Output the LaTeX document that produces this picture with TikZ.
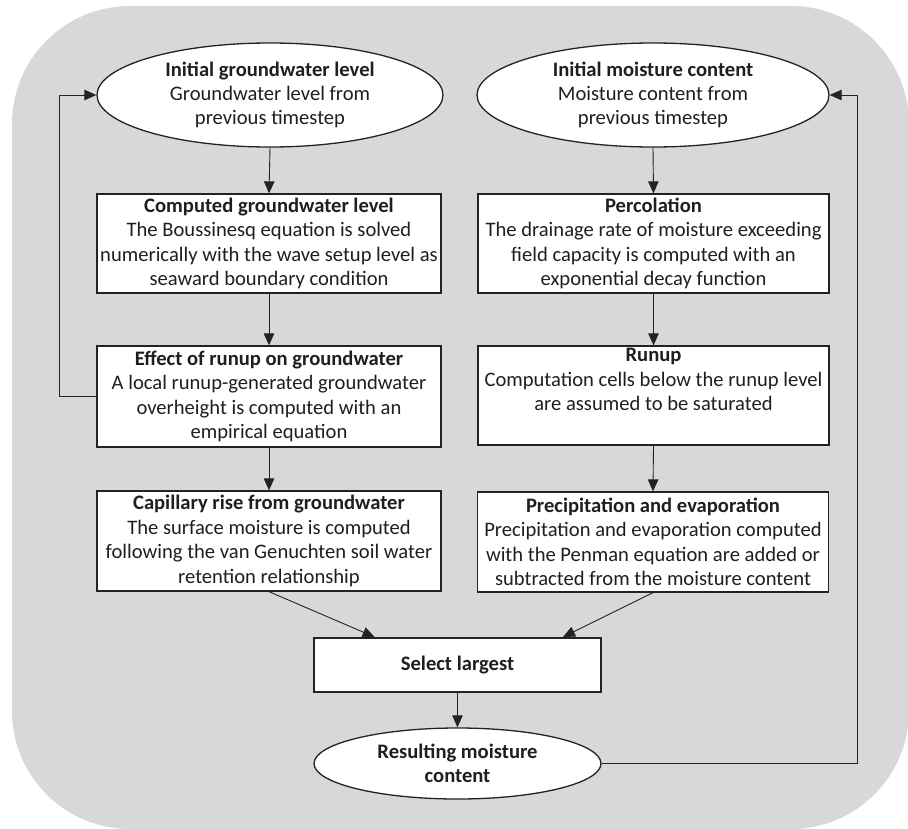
\documentclass[tikz,border=0pt]{standalone}
\usepackage{fontspec}
\setmainfont{Carlito}
\usetikzlibrary{shapes.geometric,arrows.meta,calc}
\definecolor{bggray}{RGB}{216,216,216}
\definecolor{edge}{RGB}{35,35,35}
\begin{document}
\begin{tikzpicture}[x=1pt,y=-1pt,
  every node/.style={font=\fontsize{20.6}{24.4}\selectfont, text=black!88},
  stepbox/.style={rectangle, draw=edge, line width=1.3pt, fill=white, inner sep=0pt, align=center},
  oval/.style={ellipse, draw=edge, line width=1.3pt, fill=white, inner sep=0pt, align=center},
  conn/.style={draw=edge, line width=0.9pt, -{Triangle[length=12pt,width=10.5pt]}}
]
\useasboundingbox (0,0) rectangle (908,828);
\fill[bggray, rounded corners=118pt] (12,6) rectangle (909,829);

\node[oval, minimum width=346pt, minimum height=104pt] (e1) at (270,95)
  {\textbf{Initial groundwater level}\\Groundwater level from\\previous timestep};
\node[oval, minimum width=352pt, minimum height=104pt] (e2) at (653,95)
  {\textbf{Initial moisture content}\\Moisture content from\\previous timestep};

\node[stepbox, minimum width=344pt, minimum height=99pt] (L1) at (269,243.5)
  {\textbf{Computed groundwater level}\\The Boussinesq equation is solved\\numerically with the wave setup level as\\seaward boundary condition};
\node[stepbox, minimum width=344pt, minimum height=101pt] (L2) at (269,396.5)
  {\textbf{Effect of runup on groundwater}\\A local runup-generated groundwater\\overheight is computed with an\\empirical equation};
\node[stepbox, minimum width=344pt, minimum height=100pt] (L3) at (269,541)
  {\textbf{Capillary rise from groundwater}\\The surface moisture is computed\\following the van Genuchten soil water\\retention relationship};

\node[stepbox, minimum width=351pt, minimum height=99pt] (R1) at (653.5,243.5)
  {\textbf{Percolation}\\The drainage rate of moisture exceeding\\field capacity is computed with an\\exponential decay function};
\node[stepbox, minimum width=351pt, minimum height=99pt] (R2) at (653.5,395.5)
  {\textbf{Runup}\\Computation cells below the runup level\\are assumed to be saturated\\\strut};
\node[stepbox, minimum width=351pt, minimum height=100pt] (R3) at (653,542)
  {\textbf{Precipitation and evaporation}\\Precipitation and evaporation computed\\with the Penman equation are added or\\subtracted from the moisture content};

\node[stepbox, line width=2pt, minimum width=287pt, minimum height=54pt] (S) at (457.5,665)
  {\textbf{Select largest}};
\node[oval, minimum width=287pt, minimum height=71pt] (res) at (457.5,763.5)
  {\textbf{Resulting moisture}\\\textbf{content}};

\coordinate (lx) at (59,0);
\coordinate (rx) at (857,0);

\draw[conn] (e1.south) -- (L1.north);
\draw[conn] (L1.south) -- (L2.north);
\draw[conn] (L2.south) -- (L3.north);
\draw[conn] (e2.south) -- (R1.north);
\draw[conn] (R1.south) -- (R2.north);
\draw[conn] (R2.south) -- (R3.north);
\draw[conn] (L3.south) -- ($(S.north west)!0.213!(S.north east)$);
\draw[conn] (R3.south) -- ($(S.north west)!0.865!(S.north east)$);
\draw[conn] (S.south) -- (res.north);
\draw[conn] (L2.west) -- (L2.west -| lx) -- (e1.west -| lx) -- (e1.west);
\draw[conn] (res.east) -- (res.east -| rx) -- (e2.east -| rx) -- (e2.east);
\end{tikzpicture}
\end{document}
